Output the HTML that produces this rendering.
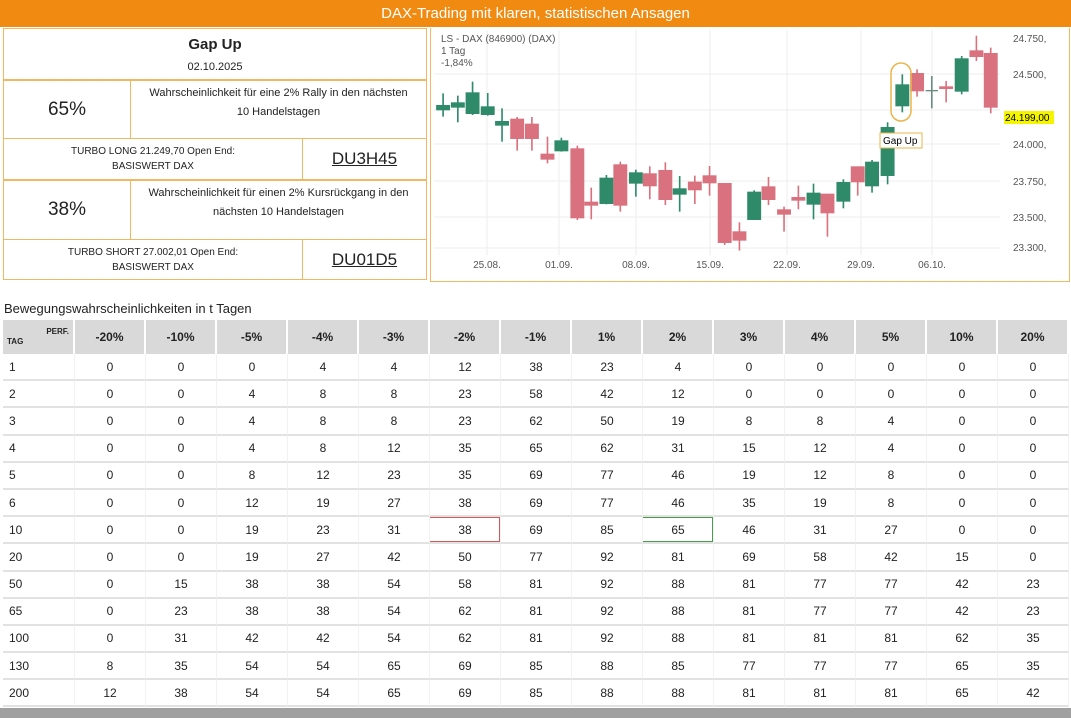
<!DOCTYPE html>
<html><head><meta charset="utf-8"><style>
*{margin:0;padding:0;box-sizing:border-box}
body{width:1071px;height:718px;background:#fff;font-family:"Liberation Sans",sans-serif;color:#222;position:relative;overflow:hidden}
.hdr{position:absolute;left:0;top:0;width:1071px;height:27px;background:#f08a10;color:#fff;font-size:15px;text-align:center;line-height:27px}
.lp{position:absolute;left:3px;top:28px;width:424px;height:252px;border:1px solid #f0b860}
.c{position:absolute;border:1px solid #f0b860;display:flex;align-items:center;justify-content:center;text-align:center;flex-direction:column}
.chart{position:absolute;left:430px;top:28px;width:640px;height:254px;border:1px solid #f0b860;border-top:none}
.tt{position:absolute;left:4px;top:301px;font-size:13px}
.grid{position:absolute;left:3px;top:320px;display:grid;grid-template-columns:72px repeat(14,71px);grid-template-rows:34px repeat(13,27.2px)}
.grid div{border-bottom:2px solid #e2e2e2;border-right:1px solid #f2f2f2;font-size:12px;display:flex;align-items:center;justify-content:center}
.grid .h{background:#d9d9d9;font-weight:bold;border-right:2px solid #fff;border-bottom:none}
.grid .f{justify-content:flex-start;padding-left:6px}
.bar{position:absolute;left:0;top:708px;width:1071px;height:10px;background:#a0a0a0}
</style></head><body>
<div class="hdr">DAX-Trading mit klaren, statistischen Ansagen</div>
<div class="lp"></div>
<div class="c" style="left:3px;top:28px;width:424px;height:52px"><div style="font-size:15px;font-weight:bold">Gap Up</div><div style="font-size:11px;margin-top:8px">02.10.2025</div></div>
<div class="c" style="left:3px;top:80px;width:128px;height:59px;font-size:19px">65%</div>
<div class="c" style="left:130px;top:80px;width:297px;height:59px;font-size:11px;justify-content:flex-start;padding-top:3px;line-height:19px">Wahrscheinlichkeit für eine 2% Rally in den nächsten<br>10 Handelstagen</div>
<div class="c" style="left:3px;top:138px;width:300px;height:42px;font-size:10px;line-height:15px">TURBO LONG 21.249,70 Open End:<br>BASISWERT DAX</div>
<div class="c" style="left:302px;top:138px;width:125px;height:42px;font-size:17px;text-decoration:underline">DU3H45</div>
<div class="c" style="left:3px;top:180px;width:128px;height:60px;font-size:19px">38%</div>
<div class="c" style="left:130px;top:180px;width:297px;height:60px;font-size:11px;justify-content:flex-start;padding-top:3px;line-height:19px">Wahrscheinlichkeit für einen 2% Kursrückgang in den<br>nächsten 10 Handelstagen</div>
<div class="c" style="left:3px;top:239px;width:300px;height:41px;font-size:10px;line-height:15px">TURBO SHORT 27.002,01 Open End:<br>BASISWERT DAX</div>
<div class="c" style="left:302px;top:239px;width:125px;height:41px;font-size:17px;text-decoration:underline">DU01D5</div>

<div class="chart"></div>
<svg style="position:absolute;left:0;top:0" width="1071" height="300">
<g stroke="#eee" stroke-width="1">
<line x1="434" x2="1000" y1="74" y2="74"/><line x1="434" x2="1000" y1="110" y2="110"/><line x1="434" x2="1000" y1="144" y2="144"/><line x1="434" x2="1000" y1="181" y2="181"/><line x1="434" x2="1000" y1="217" y2="217"/><line x1="434" x2="1000" y1="248" y2="248"/>
<line x1="487" x2="487" y1="30" y2="255"/><line x1="559" x2="559" y1="30" y2="255"/><line x1="636" x2="636" y1="30" y2="255"/><line x1="710" x2="710" y1="30" y2="255"/><line x1="787" x2="787" y1="30" y2="255"/><line x1="861" x2="861" y1="30" y2="255"/><line x1="932" x2="932" y1="30" y2="255"/>
</g>
<g font-size="10" fill="#555" font-family="Liberation Sans,sans-serif">
<text x="441" y="42">LS - DAX (846900) (DAX)</text><text x="441" y="54">1 Tag</text><text x="441" y="66">-1,84%</text>
<text x="1013" y="42">24.750,</text><text x="1013" y="78">24.500,</text><text x="1013" y="148">24.000,</text><text x="1013" y="185">23.750,</text><text x="1013" y="221">23.500,</text><text x="1013" y="251">23.300,</text>
<g text-anchor="middle"><text x="487" y="268">25.08.</text><text x="559" y="268">01.09.</text><text x="636" y="268">08.09.</text><text x="710" y="268">15.09.</text><text x="787" y="268">22.09.</text><text x="861" y="268">29.09.</text><text x="932" y="268">06.10.</text></g>
</g>
<rect x="1004" y="111" width="50" height="13" fill="#f5f500"/><text x="1005" y="121" font-size="10" font-family="Liberation Sans,sans-serif">24.199,00</text>
<g transform="translate(430,25) scale(0.4093,0.3333)">
<g fill="#2f8a6a" stroke="#2f8a6a" stroke-width="4">
<line x1="32" y1="205" x2="32" y2="275"/><rect x="17" y="242" width="30" height="12"/>
<line x1="68" y1="212" x2="68" y2="292"/><rect x="53" y="234" width="30" height="12"/>
<line x1="104" y1="170" x2="104" y2="270"/><rect x="89" y="204" width="30" height="61"/>
<line x1="141" y1="204" x2="141" y2="272"/><rect x="126" y="246" width="30" height="22"/>
<line x1="176" y1="250" x2="176" y2="350"/><rect x="161" y="290" width="30" height="10"/>
<line x1="321" y1="338" x2="321" y2="380"/><rect x="306" y="348" width="30" height="29"/>
<line x1="431" y1="450" x2="431" y2="538"/><rect x="416" y="460" width="30" height="75"/>
<line x1="503" y1="434" x2="503" y2="515"/><rect x="488" y="444" width="30" height="30"/>
<line x1="610" y1="453" x2="610" y2="560"/><rect x="595" y="492" width="30" height="15"/>
<line x1="792" y1="496" x2="792" y2="585"/><rect x="777" y="502" width="30" height="81"/>
<line x1="937" y1="476" x2="937" y2="583"/><rect x="922" y="505" width="30" height="32"/>
<line x1="1010" y1="463" x2="1010" y2="550"/><rect x="995" y="473" width="30" height="55"/>
<line x1="1080" y1="405" x2="1080" y2="503"/><rect x="1065" y="412" width="30" height="70"/>
<line x1="1118" y1="292" x2="1118" y2="478"/><rect x="1103" y="308" width="30" height="143"/>
<line x1="1154" y1="148" x2="1154" y2="262"/><rect x="1139" y="180" width="30" height="62"/>
<line x1="1299" y1="93" x2="1299" y2="208"/><rect x="1284" y="102" width="30" height="96"/>
</g>
<g stroke="#6b8a80" stroke-width="4"><line x1="1226" y1="153" x2="1226" y2="250"/><line x1="1211" y1="197" x2="1241" y2="197"/></g>
<g fill="#d9717e" stroke="#d9717e" stroke-width="4">
<line x1="213" y1="276" x2="213" y2="377"/><rect x="198" y="283" width="30" height="57"/>
<line x1="249" y1="276" x2="249" y2="377"/><rect x="234" y="298" width="30" height="42"/>
<line x1="287" y1="335" x2="287" y2="415"/><rect x="272" y="388" width="30" height="14"/>
<line x1="360" y1="362" x2="360" y2="585"/><rect x="345" y="372" width="30" height="206"/>
<line x1="394" y1="488" x2="394" y2="583"/><rect x="379" y="532" width="30" height="8"/>
<line x1="465" y1="410" x2="465" y2="560"/><rect x="450" y="420" width="30" height="120"/>
<line x1="537" y1="424" x2="537" y2="523"/><rect x="522" y="447" width="30" height="35"/>
<line x1="575" y1="412" x2="575" y2="540"/><rect x="560" y="437" width="30" height="86"/>
<line x1="647" y1="452" x2="647" y2="537"/><rect x="632" y="472" width="30" height="22"/>
<line x1="683" y1="423" x2="683" y2="512"/><rect x="668" y="453" width="30" height="20"/>
<line x1="720" y1="476" x2="720" y2="660"/><rect x="705" y="476" width="30" height="176"/>
<line x1="756" y1="592" x2="756" y2="677"/><rect x="741" y="621" width="30" height="24"/>
<line x1="827" y1="456" x2="827" y2="540"/><rect x="812" y="486" width="30" height="37"/>
<line x1="865" y1="545" x2="865" y2="620"/><rect x="850" y="555" width="30" height="12"/>
<line x1="900" y1="482" x2="900" y2="553"/><rect x="885" y="518" width="30" height="7"/>
<line x1="971" y1="508" x2="971" y2="635"/><rect x="956" y="508" width="30" height="55"/>
<line x1="1045" y1="426" x2="1045" y2="512"/><rect x="1030" y="426" width="30" height="44"/>
<line x1="1190" y1="133" x2="1190" y2="215"/><rect x="1175" y="146" width="30" height="51"/>
<line x1="1261" y1="168" x2="1261" y2="232"/><rect x="1246" y="186" width="30" height="4"/>
<line x1="1335" y1="32" x2="1335" y2="108"/><rect x="1320" y="78" width="30" height="16"/>
<line x1="1370" y1="68" x2="1370" y2="265"/><rect x="1355" y="86" width="30" height="160"/>
</g>
</g>
<rect x="891" y="63" width="20" height="58" rx="10" fill="none" stroke="#eab54a" stroke-width="1.5"/>
<rect x="880" y="133" width="42" height="15" fill="#fff" stroke="#eab54a"/><text x="883" y="144" font-size="10" font-family="Liberation Sans,sans-serif">Gap Up</text>
</svg>

<div class="tt">Bewegungswahrscheinlichkeiten in t Tagen</div>
<div class="grid">
<div class="h" style="font-size:8px;justify-content:space-between;padding:0 4px;align-items:stretch"><span style="align-self:flex-end;margin-bottom:8px">TAG</span><span style="margin-top:7px">PERF.</span></div>
<div class="h">-20%</div><div class="h">-10%</div><div class="h">-5%</div><div class="h">-4%</div><div class="h">-3%</div><div class="h">-2%</div><div class="h">-1%</div><div class="h">1%</div><div class="h">2%</div><div class="h">3%</div><div class="h">4%</div><div class="h">5%</div><div class="h">10%</div><div class="h">20%</div>
<div class="f">1</div><div>0</div><div>0</div><div>0</div><div>4</div><div>4</div><div>12</div><div>38</div><div>23</div><div>4</div><div>0</div><div>0</div><div>0</div><div>0</div><div>0</div>
<div class="f">2</div><div>0</div><div>0</div><div>4</div><div>8</div><div>8</div><div>23</div><div>58</div><div>42</div><div>12</div><div>0</div><div>0</div><div>0</div><div>0</div><div>0</div>
<div class="f">3</div><div>0</div><div>0</div><div>4</div><div>8</div><div>8</div><div>23</div><div>62</div><div>50</div><div>19</div><div>8</div><div>8</div><div>4</div><div>0</div><div>0</div>
<div class="f">4</div><div>0</div><div>0</div><div>4</div><div>8</div><div>12</div><div>35</div><div>65</div><div>62</div><div>31</div><div>15</div><div>12</div><div>4</div><div>0</div><div>0</div>
<div class="f">5</div><div>0</div><div>0</div><div>8</div><div>12</div><div>23</div><div>35</div><div>69</div><div>77</div><div>46</div><div>19</div><div>12</div><div>8</div><div>0</div><div>0</div>
<div class="f">6</div><div>0</div><div>0</div><div>12</div><div>19</div><div>27</div><div>38</div><div>69</div><div>77</div><div>46</div><div>35</div><div>19</div><div>8</div><div>0</div><div>0</div>
<div class="f">10</div><div>0</div><div>0</div><div>19</div><div>23</div><div>31</div><div style="box-shadow:inset 0 1px #d05a5a,inset -1px 0 #d05a5a,inset 0 -1px #d05a5a">38</div><div>69</div><div>85</div><div style="box-shadow:inset 0 1px #4c9a4c,inset -1px 0 #4c9a4c,inset 0 -1px #4c9a4c">65</div><div>46</div><div>31</div><div>27</div><div>0</div><div>0</div>
<div class="f">20</div><div>0</div><div>0</div><div>19</div><div>27</div><div>42</div><div>50</div><div>77</div><div>92</div><div>81</div><div>69</div><div>58</div><div>42</div><div>15</div><div>0</div>
<div class="f">50</div><div>0</div><div>15</div><div>38</div><div>38</div><div>54</div><div>58</div><div>81</div><div>92</div><div>88</div><div>81</div><div>77</div><div>77</div><div>42</div><div>23</div>
<div class="f">65</div><div>0</div><div>23</div><div>38</div><div>38</div><div>54</div><div>62</div><div>81</div><div>92</div><div>88</div><div>81</div><div>77</div><div>77</div><div>42</div><div>23</div>
<div class="f">100</div><div>0</div><div>31</div><div>42</div><div>42</div><div>54</div><div>62</div><div>81</div><div>92</div><div>88</div><div>81</div><div>81</div><div>81</div><div>62</div><div>35</div>
<div class="f">130</div><div>8</div><div>35</div><div>54</div><div>54</div><div>65</div><div>69</div><div>85</div><div>88</div><div>85</div><div>77</div><div>77</div><div>77</div><div>65</div><div>35</div>
<div class="f">200</div><div>12</div><div>38</div><div>54</div><div>54</div><div>65</div><div>69</div><div>85</div><div>88</div><div>88</div><div>81</div><div>81</div><div>81</div><div>65</div><div>42</div>
</div>
<div class="bar"></div>
</body></html>
